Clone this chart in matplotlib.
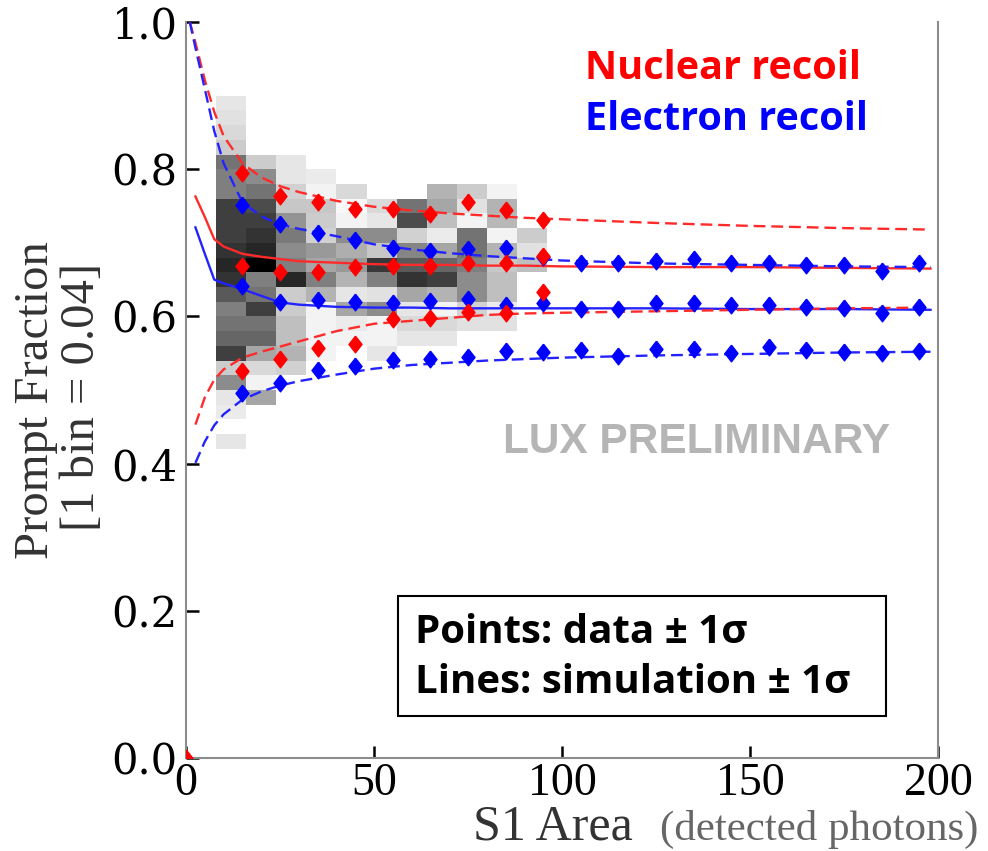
import numpy as np
import matplotlib
matplotlib.use("Agg")
import matplotlib.pyplot as plt
from matplotlib.patches import Rectangle

# heat map bins (S1 area edges, prompt-fraction edges)
x_edges = [8, 16, 24, 32, 40, 48, 56, 64, 72, 80, 88, 96]
y_edges = [0.90, 0.88, 0.86, 0.84, 0.82, 0.80, 0.78, 0.76, 0.74, 0.72, 0.70, 0.68,
           0.66, 0.64, 0.62, 0.60, 0.58, 0.56, 0.54, 0.52, 0.50, 0.48, 0.46, 0.44, 0.42]

# relative density per cell, rows from top (0.90) to bottom (0.42), 0 = empty
density = [
    [0.10, 0, 0, 0, 0, 0, 0, 0, 0, 0, 0],
    [0.12, 0, 0, 0, 0, 0, 0, 0, 0, 0, 0],
    [0.15, 0, 0, 0, 0, 0, 0, 0, 0, 0, 0],
    [0.20, 0, 0, 0, 0, 0, 0, 0, 0, 0, 0],
    [0.55, 0.20, 0.10, 0, 0, 0, 0, 0, 0, 0, 0],
    [0.50, 0.45, 0.10, 0.08, 0, 0, 0, 0, 0, 0, 0],
    [0.50, 0.55, 0.18, 0.05, 0.15, 0, 0, 0.30, 0.20, 0.05, 0],
    [0.75, 0.70, 0.22, 0.22, 0.03, 0.15, 0.55, 0.35, 0.12, 0.30, 0],
    [0.75, 0.75, 0.42, 0.20, 0.05, 0.10, 0.70, 0.25, 0.05, 0.28, 0],
    [0.75, 0.80, 0.52, 0.18, 0.45, 0.45, 0.18, 0.08, 0.55, 0.05, 0.20],
    [0.80, 0.85, 0.45, 0.40, 0.32, 0.22, 0.48, 0.35, 0.55, 0.30, 0.12],
    [0.85, 1.00, 0.50, 0.35, 0.40, 0.78, 0.65, 0.60, 0.50, 0.22, 0.25],
    [0.80, 0.50, 0.85, 0.50, 0.30, 0.50, 0.80, 0.75, 0.45, 0.25, 0],
    [0.65, 0.55, 0.20, 0.30, 0.10, 0.12, 0.35, 0.30, 0.45, 0.25, 0],
    [0.50, 0.75, 0.20, 0.05, 0.35, 0.45, 0.10, 0.05, 0.18, 0.08, 0],
    [0.55, 0.55, 0.25, 0.05, 0.08, 0.05, 0.15, 0.15, 0.12, 0.12, 0],
    [0.60, 0.60, 0.25, 0.05, 0.05, 0.05, 0.10, 0.10, 0, 0, 0],
    [0.75, 0.35, 0.30, 0.05, 0, 0.10, 0, 0, 0, 0, 0],
    [0.20, 0.15, 0.18, 0, 0, 0, 0, 0, 0, 0, 0],
    [0.45, 0.05, 0, 0, 0, 0, 0, 0, 0, 0, 0],
    [0.10, 0.35, 0, 0, 0, 0, 0, 0, 0, 0, 0],
    [0.08, 0, 0, 0, 0, 0, 0, 0, 0, 0, 0],
    [0, 0, 0, 0, 0, 0, 0, 0, 0, 0, 0],
    [0.10, 0, 0, 0, 0, 0, 0, 0, 0, 0, 0],
]

# simulation curves (mean and +-1 sigma)
sim_x = [1.0, 2.5, 5, 7.5, 10, 15, 20, 25, 30, 40, 50, 60, 70, 80, 90, 100, 125, 150, 175, 198]
nr_sim_mean = [np.nan, 0.763, 0.735, 0.705, 0.695, 0.685, 0.681, 0.678, 0.675, 0.673, 0.671,
               0.670, 0.670, 0.669, 0.669, 0.668, 0.667, 0.667, 0.666, 0.665]
nr_sim_hi = [1.0, 0.972, 0.921, 0.878, 0.845, 0.808, 0.789, 0.777, 0.769, 0.757, 0.749,
             0.744, 0.740, 0.737, 0.734, 0.732, 0.727, 0.723, 0.720, 0.718]
nr_sim_lo = [np.nan, 0.453, 0.490, 0.514, 0.528, 0.544, 0.552, 0.559, 0.566, 0.580, 0.590,
             0.594, 0.598, 0.602, 0.604, 0.605, 0.607, 0.609, 0.611, 0.612]
er_sim_mean = [np.nan, 0.721, 0.685, 0.650, 0.645, 0.637, 0.628, 0.619, 0.616, 0.613, 0.612,
               0.612, 0.611, 0.611, 0.611, 0.611, 0.611, 0.610, 0.610, 0.609]
er_sim_hi = [1.0, 0.965, 0.909, 0.852, 0.808, 0.755, 0.736, 0.725, 0.719, 0.709, 0.698,
             0.691, 0.686, 0.682, 0.679, 0.676, 0.672, 0.670, 0.668, 0.667]
er_sim_lo = [np.nan, 0.401, 0.430, 0.452, 0.467, 0.487, 0.498, 0.506, 0.512, 0.521, 0.529,
             0.534, 0.537, 0.540, 0.542, 0.544, 0.547, 0.549, 0.551, 0.552]

# data points
nr_x = [15, 25, 35, 45, 55, 65, 75, 85, 95]
nr_hi = [0.795, 0.764, 0.755, 0.746, 0.746, 0.739, 0.756, 0.744, 0.731]
nr_mean = [0.668, 0.660, 0.660, 0.667, 0.668, 0.669, 0.673, 0.673, 0.682]
nr_lo = [0.526, 0.542, 0.557, 0.562, 0.597, 0.598, 0.606, 0.604, 0.633]

er_x = [15, 25, 35, 45, 55, 65, 75, 85, 95, 105, 115, 125, 135, 145, 155, 165, 175, 185, 195]
er_hi = [0.751, 0.725, 0.713, 0.704, 0.693, 0.689, 0.691, 0.693, 0.681, 0.672, 0.672, 0.675,
         0.678, 0.673, 0.673, 0.670, 0.670, 0.662, 0.672]
er_mean = [0.642, 0.619, 0.622, 0.619, 0.618, 0.621, 0.623, 0.616, 0.618, 0.610, 0.610, 0.618,
           0.618, 0.615, 0.616, 0.613, 0.612, 0.604, 0.613]
er_lo = [0.496, 0.509, 0.527, 0.532, 0.541, 0.542, 0.545, 0.553, 0.552, 0.554, 0.546, 0.556,
         0.556, 0.550, 0.559, 0.555, 0.552, 0.550, 0.553]

x_ticks = [0, 50, 100, 150, 200]
y_ticks = [0.0, 0.2, 0.4, 0.6, 0.8, 1.0]

RED = "#ff0000"
BLUE = "#0000ff"
RED_LINE = "#ff2b2b"
BLUE_LINE = "#2323ff"

fig = plt.figure(figsize=(9.88, 8.51), dpi=100)
ax = fig.add_axes([0.1883, 0.1093, 0.7611, 0.8648])

# 2D histogram
dens = np.ma.masked_equal(np.array(density), 0)
ax.pcolormesh(x_edges, y_edges, dens, cmap="gray_r", vmin=0, vmax=1, shading="flat", zorder=1)

# simulation lines
dash = (5, 2.5)
ax.plot(sim_x, nr_sim_mean, color=RED_LINE, lw=1.7, zorder=3)
ax.plot(sim_x, er_sim_mean, color=BLUE_LINE, lw=1.7, zorder=3)
for yy, c in [(nr_sim_hi, RED_LINE), (nr_sim_lo, RED_LINE), (er_sim_hi, BLUE_LINE), (er_sim_lo, BLUE_LINE)]:
    ax.plot(sim_x, yy, color=c, lw=1.7, dashes=dash, zorder=3)

# data diamonds
diamond = [(0, 1), (0.78, 0), (0, -1), (-0.78, 0), (0, 1)]
for yy in (er_hi, er_mean, er_lo):
    ax.plot(er_x, yy, ls="none", marker=diamond, ms=12, color=BLUE, zorder=4)
for yy in (nr_hi, nr_mean, nr_lo):
    ax.plot(nr_x, yy, ls="none", marker=diamond, ms=12, color=RED, zorder=5)
ax.plot([0], [0], ls="none", marker=diamond, ms=12, color=RED, zorder=5)

ax.set_xlim(0, 200)
ax.set_ylim(0, 1.0)
ax.set_xticks(x_ticks)
ax.set_yticks(y_ticks)
ax.set_xticklabels([str(t) for t in x_ticks], family="Liberation Serif", fontsize=33)
ax.set_yticklabels(["%.1f" % t for t in y_ticks], family="DejaVu Serif", fontsize=30)
ax.tick_params(direction="in", length=9, width=1.8, color="black", pad=6)
ax.tick_params(axis="x", pad=3)

for side in ("left", "bottom", "right"):
    ax.spines[side].set_color("#8c8c8c")
    ax.spines[side].set_linewidth(1.5)
ax.spines["top"].set_visible(False)

# annotations
ax.text(0.531, 0.9375, "Nuclear recoil", transform=ax.transAxes, color=RED,
        family="Open Sans", weight="bold", fontsize=28.5, va="center", ha="left")
ax.text(0.531, 0.867, "Electron recoil", transform=ax.transAxes, color=BLUE,
        family="Open Sans", weight="bold", fontsize=28.5, va="center", ha="left")
ax.text(0.4215, 0.429, "LUX PRELIMINARY", transform=ax.transAxes, color="#b5b5b5",
        family="Liberation Sans", weight="bold", fontsize=30.5, va="center", ha="left")

box = Rectangle((0.282, 0.057), 0.649, 0.163, transform=ax.transAxes,
                facecolor="white", edgecolor="black", lw=1.5, zorder=6)
ax.add_patch(box)
ax.text(0.3045, 0.170, "Points: data ± 1σ", transform=ax.transAxes, color="black",
        family="Open Sans", weight="bold", fontsize=29, va="center", ha="left", zorder=7)
ax.text(0.3045, 0.102, "Lines: simulation ± 1σ", transform=ax.transAxes, color="black",
        family="Open Sans", weight="bold", fontsize=29, va="center", ha="left", zorder=7)

# axis titles
fig.text(0.036, 0.530, "Prompt Fraction", rotation=90, family="Liberation Serif",
         fontsize=35, color="#333333", ha="center", va="center")
fig.text(0.083, 0.5335, "[1 bin = 0.04]", rotation=90, family="Liberation Serif",
         fontsize=35, color="#333333", ha="center", va="center")
fig.text(0.4787, 0.0135, "S1 Area", family="Liberation Serif", fontsize=36,
         color="#333333", ha="left", va="baseline")
fig.text(0.668, 0.0135, "(detected photons)", family="Liberation Serif", fontsize=31,
         color="#666666", ha="left", va="baseline")

fig.savefig("out.png", dpi=100)
